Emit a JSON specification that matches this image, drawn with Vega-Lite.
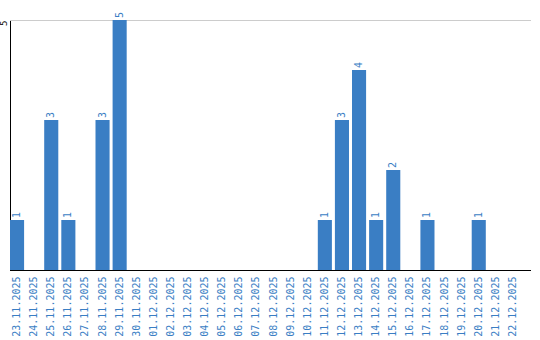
{
  "$schema": "https://vega.github.io/schema/vega-lite/v6.json",
  "autosize": "none",
  "width": 521,
  "height": 250,
  "padding": {"left": 10, "top": 20, "right": 9, "bottom": 70},
  "background": "white",
  "config": {
    "view": {"stroke": null},
    "font": "DejaVu Sans Mono"
  },
  "data": {
    "values": [
      {"date": "23.11.2025", "count": 1},
      {"date": "24.11.2025", "count": 0},
      {"date": "25.11.2025", "count": 3},
      {"date": "26.11.2025", "count": 1},
      {"date": "27.11.2025", "count": 0},
      {"date": "28.11.2025", "count": 3},
      {"date": "29.11.2025", "count": 5},
      {"date": "30.11.2025", "count": 0},
      {"date": "01.12.2025", "count": 0},
      {"date": "02.12.2025", "count": 0},
      {"date": "03.12.2025", "count": 0},
      {"date": "04.12.2025", "count": 0},
      {"date": "05.12.2025", "count": 0},
      {"date": "06.12.2025", "count": 0},
      {"date": "07.12.2025", "count": 0},
      {"date": "08.12.2025", "count": 0},
      {"date": "09.12.2025", "count": 0},
      {"date": "10.12.2025", "count": 0},
      {"date": "11.12.2025", "count": 1},
      {"date": "12.12.2025", "count": 3},
      {"date": "13.12.2025", "count": 4},
      {"date": "14.12.2025", "count": 1},
      {"date": "15.12.2025", "count": 2},
      {"date": "16.12.2025", "count": 0},
      {"date": "17.12.2025", "count": 1},
      {"date": "18.12.2025", "count": 0},
      {"date": "19.12.2025", "count": 0},
      {"date": "20.12.2025", "count": 1},
      {"date": "21.12.2025", "count": 0},
      {"date": "22.12.2025", "count": 0}
    ]
  },
  "encoding": {
    "x": {
      "field": "date",
      "type": "nominal",
      "sort": null,
      "scale": {"range": [0, 510], "paddingInner": 0.176, "paddingOuter": 0},
      "axis": {
        "title": null,
        "labelAngle": -90,
        "labelAlign": "right",
        "labelBaseline": "middle",
        "labelColor": "#3a7ec4",
        "labelFontSize": 10,
        "labelFont": "DejaVu Sans Mono",
        "labelPadding": 6,
        "ticks": false,
        "domain": false
      }
    },
    "y": {
      "field": "count",
      "type": "quantitative",
      "scale": {"domain": [0, 5], "nice": false},
      "axis": {
        "title": null,
        "values": [5],
        "labelAngle": -90,
        "labelAlign": "right",
        "labelBaseline": "bottom",
        "labelColor": "black",
        "labelFontSize": 9,
        "labelPadding": 2,
        "ticks": false,
        "domainColor": "black",
        "domainWidth": 1,
        "grid": false
      }
    }
  },
  "layer": [
    {
      "mark": {"type": "rule", "color": "#cccccc", "strokeWidth": 1, "yOffset": 0.5},
      "encoding": {"y": {"datum": 5}, "x": null}
    },
    {
      "mark": {"type": "bar", "color": "#3a7ec4"}
    },
    {
      "transform": [{"filter": "datum.count > 0"}],
      "mark": {
        "type": "text",
        "angle": -90,
        "align": "left",
        "baseline": "middle",
        "dx": 2,
        "fontSize": 10,
        "color": "#3a7ec4"
      },
      "encoding": {"text": {"field": "count", "type": "quantitative"}}
    },
    {
      "mark": {"type": "rule", "color": "black", "strokeWidth": 1, "yOffset": 0.5},
      "encoding": {"y": {"datum": 0}, "x": null}
    }
  ]
}
